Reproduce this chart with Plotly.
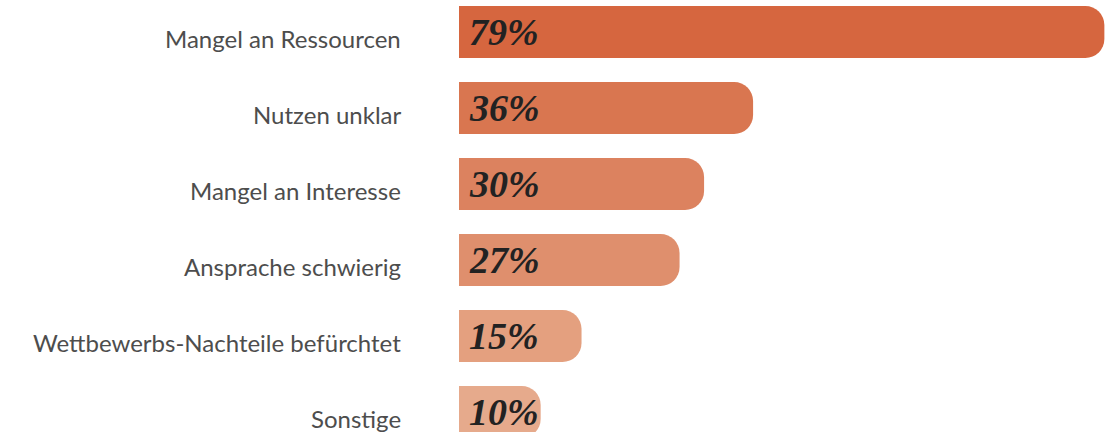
import plotly.graph_objects as go

categories = [
    "Mangel an Ressourcen",
    "Nutzen unklar",
    "Mangel an Interesse",
    "Ansprache schwierig",
    "Wettbewerbs-Nachteile befürchtet",
    "Sonstige",
]
values = [79, 36, 30, 27, 15, 10]
value_labels = ["79%", "36%", "30%", "27%", "15%", "10%"]
colors = ["#D6663F", "#D97650", "#DC825F", "#DF8F6D", "#E4A07F", "#E6AA8C"]

positions = list(range(len(categories)))

fig = go.Figure()
fig.add_trace(go.Bar(
    x=values,
    y=positions,
    orientation="h",
    width=0.684,
    marker=dict(color=colors, line=dict(width=0), cornerradius=19),
    hoverinfo="skip",
    showlegend=False,
))

for p, lab in zip(positions, value_labels):
    fig.add_annotation(
        x=0, y=p, xref="x", yref="y",
        text=lab, showarrow=False,
        xanchor="left", yanchor="middle", xshift=8, yshift=0,
        font=dict(family="Liberation Serif", size=38, color="#222222", weight="bold", style="italic"),
    )

for p, cat in zip(positions, categories):
    fig.add_annotation(
        x=0, y=p, xref="x", yref="y",
        text=cat, showarrow=False,
        xanchor="right", yanchor="middle", xshift=-56, yshift=-6,
        font=dict(family="Lato", size=24, color="#4d4d4d"),
    )

fig.update_layout(
    width=1106, height=432,
    margin=dict(l=459, r=0, t=0, b=0),
    paper_bgcolor="white",
    plot_bgcolor="white",
    xaxis=dict(range=[0, 79.2], visible=False, fixedrange=True),
    yaxis=dict(range=[5.263, -0.421], visible=False, fixedrange=True),
)

fig.write_html(
    "out.html",
    config={"displayModeBar": False, "staticPlot": True},
    post_script="document.body.style.margin='0';document.body.style.overflow='hidden';",
)
